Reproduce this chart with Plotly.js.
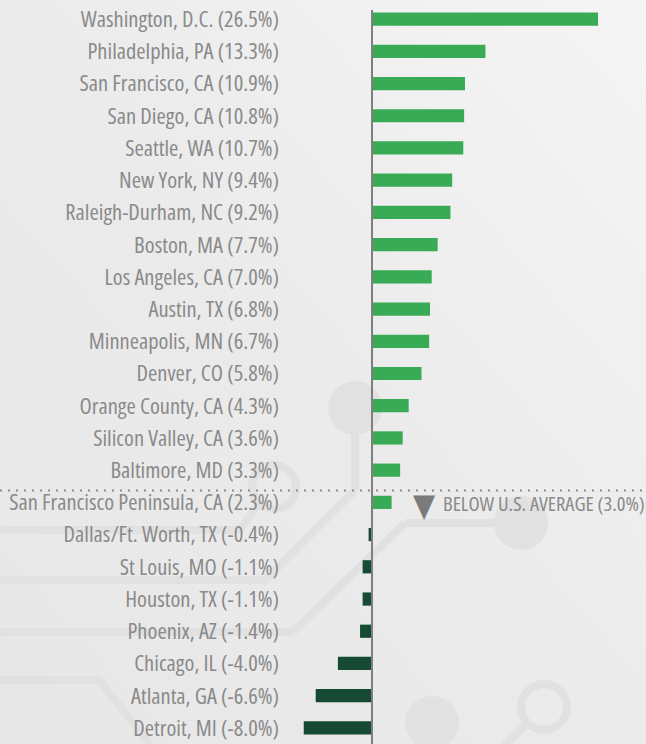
<!DOCTYPE html>
<html>
<head>
<meta charset="utf-8">
<script src="https://cdn.plot.ly/plotly-3.0.1.min.js"></script>
<style>
html,body{margin:0;padding:0;background:#ebebeb;}
#chart{width:646px;height:744px;}
svg text{font-stretch:75%;}
</style>
</head>
<body>
<div id="chart"></div>
<script>
const cities = ["Washington, D.C.","Philadelphia, PA","San Francisco, CA","San Diego, CA","Seattle, WA","New York, NY","Raleigh-Durham, NC","Boston, MA","Los Angeles, CA","Austin, TX","Minneapolis, MN","Denver, CO","Orange County, CA","Silicon Valley, CA","Baltimore, MD","San Francisco Peninsula, CA","Dallas/Ft. Worth, TX","St Louis, MO","Houston, TX","Phoenix, AZ","Chicago, IL","Atlanta, GA","Detroit, MI"];
const growth = [26.5,13.3,10.9,10.8,10.7,9.4,9.2,7.7,7.0,6.8,6.7,5.8,4.3,3.6,3.3,2.3,-0.4,-1.1,-1.1,-1.4,-4.0,-6.6,-8.0];
const usAverage = 3.0;
const labels = cities.map((c,i)=>`${c} (${growth[i].toFixed(1)}%)`);

const W=646,H=744,ML=282,MT=3,MB=0,MR=0;
const pw=W-ML-MR, ph=H-MT-MB;
const px=x=>(x-ML)/pw, py=y=>(H-MB-y)/ph;
const deco='#e1e1e1';
function line(x0,y0,x1,y1,w){return {type:'line',xref:'paper',yref:'paper',x0:px(x0),y0:py(y0),x1:px(x1),y1:py(y1),line:{color:deco,width:w||8},layer:'below'};}
function disc(cx,cy,r){return {type:'circle',xref:'paper',yref:'paper',x0:px(cx-r),x1:px(cx+r),y0:py(cy+r),y1:py(cy-r),fillcolor:deco,line:{width:0},layer:'below'};}
function ring(cx,cy,r){return {type:'circle',xref:'paper',yref:'paper',x0:px(cx-r),x1:px(cx+r),y0:py(cy+r),y1:py(cy-r),fillcolor:'rgba(0,0,0,0)',line:{color:deco,width:8},layer:'below'};}

const shapes=[
  disc(355,408,27), line(355,408,355,490), line(355,490,262,583), line(264,580,0,580),
  ring(274,487,22), line(0,530,240,530), line(240,530,259,503),
  line(0,632,293,632), line(293,632,405,523), line(405,523,494,523), disc(521,523,27),
  line(0,680,99,680), line(99,680,150,744),
  disc(432,723,27), ring(544,707,23), line(528,723,500,750),
  {type:'line',xref:'paper',yref:'paper',x0:px(0),x1:1,y0:py(490.5),y1:py(490.5),line:{color:'#8a8a8a',width:2,dash:'2px,6px'}},
  {type:'line',xref:'x',yref:'paper',x0:0,x1:0,y0:0,y1:py(10),line:{color:'#7f7f7f',width:2},layer:'above'}
];

const grad='data:image/svg+xml;utf8,'+encodeURIComponent('<svg xmlns="http://www.w3.org/2000/svg" width="646" height="744"><defs><linearGradient id="g" x1="0" y1="1" x2="1" y2="0"><stop offset="0" stop-color="#e7e7e7"/><stop offset="0.5" stop-color="#ebebeb"/><stop offset="1" stop-color="#f5f5f5"/></linearGradient></defs><rect width="646" height="744" fill="url(#g)"/></svg>');

const trace={type:'bar',orientation:'h',y:labels,x:growth,
  marker:{color:growth.map(v=>v>=0?'#39aa55':'#174a33')},hoverinfo:'none'};

const layout={width:W,height:H,margin:{l:ML,r:MR,t:MT,b:MB,pad:0},
  paper_bgcolor:'#ebebeb',plot_bgcolor:'rgba(0,0,0,0)',showlegend:false,bargap:0.59,
  font:{family:'"Open Sans","Roboto Condensed",sans-serif',color:'#8a8a8a'},
  images:[{source:grad,xref:'paper',yref:'paper',x:px(0),y:py(0),sizex:W/pw,sizey:H/ph,xanchor:'left',yanchor:'top',sizing:'stretch',layer:'below'}],
  xaxis:{range:[-10.55,32.12],visible:false,fixedrange:true},
  yaxis:{type:'category',autorange:'reversed',showgrid:false,zeroline:false,showline:false,ticks:'',automargin:false,
    ticklabelstandoff:2,tickfont:{size:22.5,color:'#8a8a8a'},fixedrange:true},
  shapes:shapes,
  annotations:[
    {xref:'paper',yref:'y',x:px(424),y:labels[15],xanchor:'center',yanchor:'middle',yshift:-3,showarrow:false,
      text:'▼',font:{family:'DejaVu Sans',size:32,color:'#7b7b7b'}},
    {xref:'paper',yref:'y',x:px(441),y:labels[15],xanchor:'left',yanchor:'middle',yshift:-1,showarrow:false,
      text:`BELOW U.S. AVERAGE (${usAverage.toFixed(1)}%)`,font:{size:20.5,color:'#8a8a8a'}}]
};
Plotly.newPlot('chart',[trace],layout,{staticPlot:true});
</script>
</body>
</html>
